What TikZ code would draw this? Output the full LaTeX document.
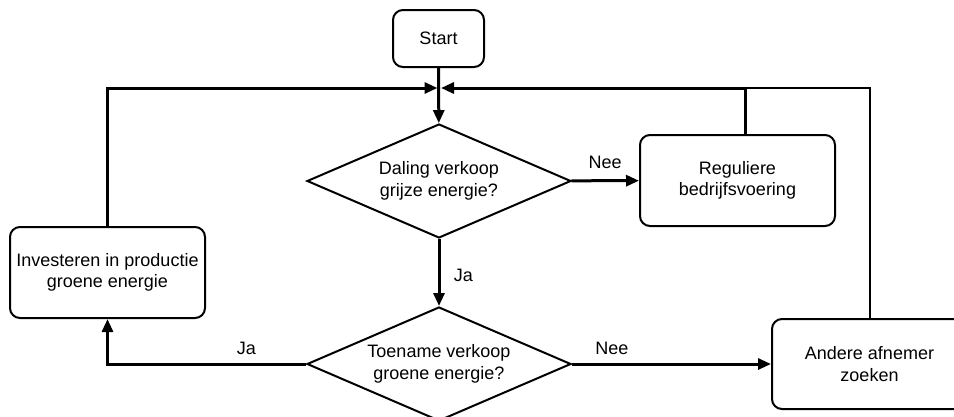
\documentclass[tikz,border=0pt]{standalone}
\usepackage{fontspec}
\setmainfont{Liberation Sans}
\usetikzlibrary{arrows.meta,shapes.geometric}
\tikzset{
  box/.style={draw,line width=2pt,rounded corners=10pt,minimum width=195pt,minimum height=91pt,align=center,inner sep=0pt},
  ask/.style={draw,line width=2pt,diamond,aspect=2.32,minimum width=264pt,minimum height=114pt,align=center,inner sep=0pt},
  flow/.style={line width=3pt,-{Triangle[length=13pt,width=11pt]}}
}
\begin{document}
\begin{tikzpicture}[x=1pt,y=-1pt,font=\fontsize{18}{21.5}\selectfont]
      \useasboundingbox (0,0) rectangle (954,416);
      \clip (0,0) rectangle (954,416);
      \draw
        (438.5,38.5) node[box,minimum width=91pt,minimum height=57pt] (start){Start}
        (439,181) node[ask] (d1){Daling verkoop\\grijze energie?}
        (439,364) node[ask] (d2){Toename verkoop\\groene energie?}
        (737.5,180.5) node[box] (reg){Reguliere\\bedrijfsvoering}
        (107.5,272.5) node[box] (inv){Investeren in productie\\groene energie}
        (869.5,364) node[box,minimum height=90pt] (and){Andere afnemer\\zoeken};
      \coordinate (ml) at (437.5,88);
      \coordinate (mr) at (441,88);
      \coordinate (rj) at (745,88);
      \begin{scope}[flow]
        \draw (start) -- (d1);
        \draw (d1) -- node[above,yshift=7pt]{Nee} (reg);
        \draw (d1) -- node[right,xshift=10pt,yshift=-3pt]{Ja} (d2);
        \draw (d2) -| node[above,pos=0.15,yshift=4pt]{Ja} (inv);
        \draw (d2) -- node[above,pos=0.2,yshift=4pt]{Nee} (and);
        \draw (inv) |- (ml);
        \draw (reg.north -| rj) -- (rj) -- (mr);
      \end{scope}
      \draw[line width=2pt] (and) |- (rj);
    \end{tikzpicture}
\end{document}
